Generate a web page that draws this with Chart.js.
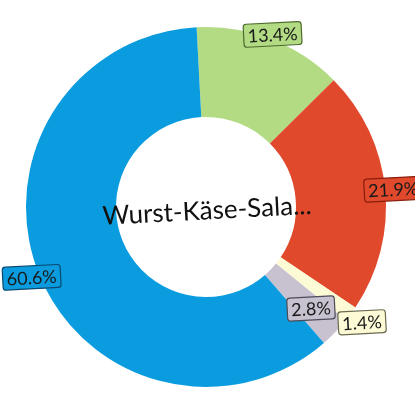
<!DOCTYPE html>
<html>
<head>
<meta charset="utf-8">
<script src="https://cdn.jsdelivr.net/npm/chart.js@4"></script>
<style>
  html, body { margin: 0; padding: 0; background: #fff; }
  #wrap { width: 415px; height: 415px; }
</style>
</head>
<body>
<div id="wrap"><canvas id="grafico"></canvas></div>
<script>
// dados
const categorias = ['Grün', 'Rot', 'Gelb', 'Lila', 'Blau'];
const valores = [13.4, 21.9, 1.4, 2.8, 60.6];
const rotulos = ['13.4%', '21.9%', '1.4%', '2.8%', '60.6%'];
const tituloCentro = 'Wurst-Käse-Sala...';

const cores = ['#b2db84', '#e0492b', '#fdfad6', '#c8c2d0', '#0a9cdf'];
const coresBorda = ['#4d6b2c', '#8a1d0c', '#6b6a50', '#4e4a58', '#0a4a72'];
// deslocamento radial de cada rótulo (px fora do anel)
const deslocRotulo = [5, 8, 14, -34, 8];

const inclinacao = -3 * Math.PI / 180;

function caixaArredondada(ctx, x, y, w, h, r) {
    ctx.beginPath();
    ctx.moveTo(x + r, y);
    ctx.lineTo(x + w - r, y);
    ctx.quadraticCurveTo(x + w, y, x + w, y + r);
    ctx.lineTo(x + w, y + h - r);
    ctx.quadraticCurveTo(x + w, y + h, x + w - r, y + h);
    ctx.lineTo(x + r, y + h);
    ctx.quadraticCurveTo(x, y + h, x, y + h - r);
    ctx.lineTo(x, y + r);
    ctx.quadraticCurveTo(x, y, x + r, y);
    ctx.closePath();
}

const pluginRotulos = {
    id: 'rotulos',
    afterDatasetsDraw(chart) {
        const ctx = chart.ctx;
        const meta = chart.getDatasetMeta(0);
        ctx.save();
        ctx.font = '18px Lato, "Open Sans", sans-serif';
        ctx.textAlign = 'center';
        ctx.textBaseline = 'middle';
        meta.data.forEach((arco, i) => {
            const p = arco.getProps(['x', 'y', 'startAngle', 'endAngle', 'outerRadius'], true);
            const meio = (p.startAngle + p.endAngle) / 2;
            const r = p.outerRadius + deslocRotulo[i];
            const cx = p.x + Math.cos(meio) * r;
            const cy = p.y + Math.sin(meio) * r;
            const texto = rotulos[i];
            const w = ctx.measureText(texto).width + 8;
            const h = 23;
            ctx.save();
            ctx.translate(cx, cy);
            ctx.rotate(inclinacao);
            caixaArredondada(ctx, -w / 2, -h / 2, w, h, 3);
            ctx.fillStyle = cores[i];
            ctx.fill();
            ctx.lineWidth = 1.2;
            ctx.strokeStyle = coresBorda[i];
            ctx.stroke();
            ctx.fillStyle = '#1a1a1a';
            ctx.fillText(texto, 0, 1);
            ctx.restore();
        });
        ctx.restore();
    }
};

const pluginCentro = {
    id: 'centro',
    afterDatasetsDraw(chart) {
        const ctx = chart.ctx;
        const arco = chart.getDatasetMeta(0).data[0];
        ctx.save();
        ctx.translate(arco.x + 1, arco.y + 4);
        ctx.rotate(inclinacao);
        ctx.font = '26px Lato, "Open Sans", sans-serif';
        ctx.textAlign = 'center';
        ctx.textBaseline = 'middle';
        ctx.fillStyle = '#111';
        ctx.fillText(tituloCentro, 0, 0);
        ctx.restore();
    }
};

new Chart(document.getElementById('grafico'), {
    type: 'doughnut',
    data: {
        labels: categorias,
        datasets: [{
            data: valores,
            backgroundColor: cores,
            borderWidth: 0
        }]
    },
    options: {
        responsive: true,
        maintainAspectRatio: false,
        animation: false,
        cutout: '50%',
        rotation: -3,
        layout: { padding: { left: 26, top: 27, right: 29, bottom: 28 } },
        plugins: {
            legend: { display: false },
            tooltip: { enabled: false }
        }
    },
    plugins: [pluginRotulos, pluginCentro]
});
</script>
</body>
</html>
